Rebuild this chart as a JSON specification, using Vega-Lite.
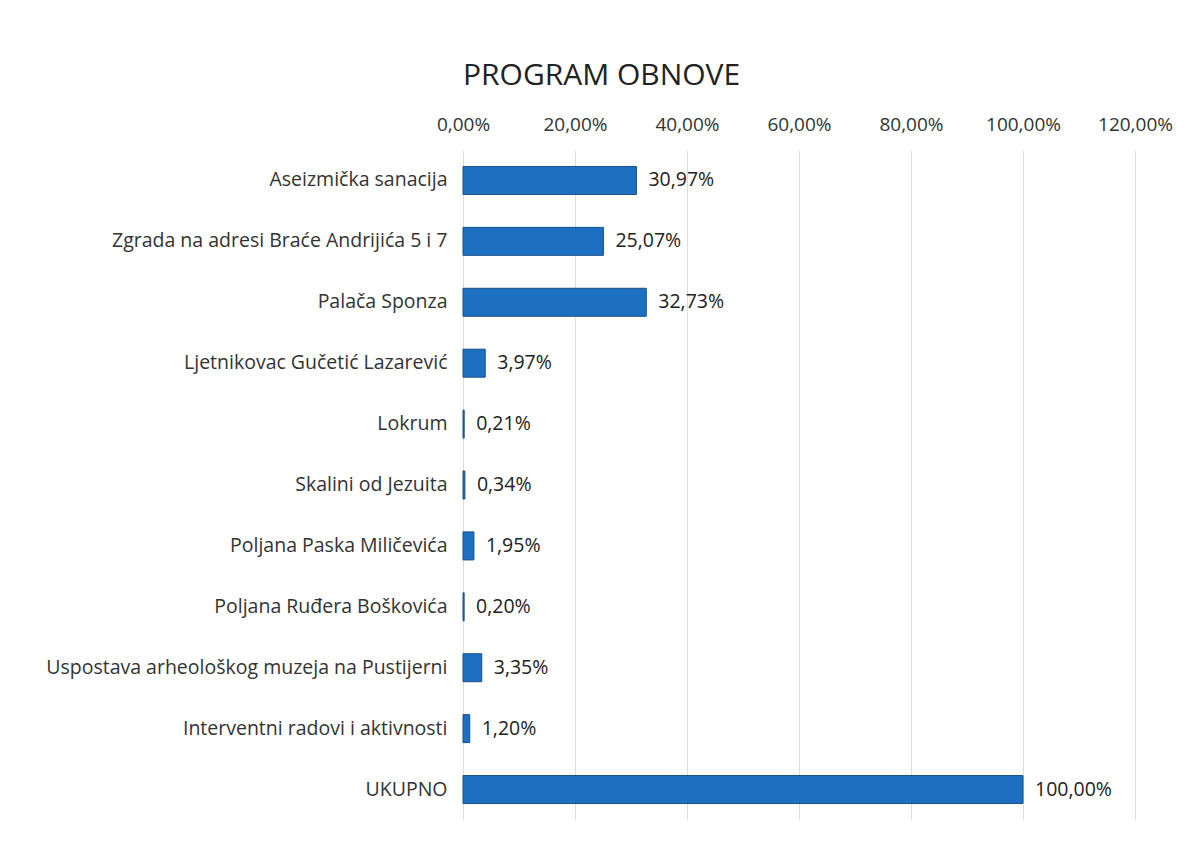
{
  "$schema": "https://vega.github.io/schema/vega-lite/v6.json",
  "autosize": {"type": "none"},
  "width": 672,
  "height": 670,
  "padding": {"left": 463, "top": 150, "right": 67, "bottom": 40},
  "background": "white",
  "title": {"text": "PROGRAM OBNOVE", "anchor": "start", "frame": "group", "fontSize": 30, "font": "Open Sans", "fontWeight": "normal", "color": "#222", "offset": 24},
  "data": {"values": [
    {"item": "Aseizmička sanacija", "share": 0.3097},
    {"item": "Zgrada na adresi Braće Andrijića 5 i 7", "share": 0.2507},
    {"item": "Palača Sponza", "share": 0.3273},
    {"item": "Ljetnikovac Gučetić Lazarević", "share": 0.0397},
    {"item": "Lokrum", "share": 0.0021},
    {"item": "Skalini od Jezuita", "share": 0.0034},
    {"item": "Poljana Paska Miličevića", "share": 0.0195},
    {"item": "Poljana Ruđera Boškovića", "share": 0.0020},
    {"item": "Uspostava arheološkog muzeja na Pustijerni", "share": 0.0335},
    {"item": "Interventni radovi i aktivnosti", "share": 0.0120},
    {"item": "UKUPNO", "share": 1.0}
  ]},
  "encoding": {
    "y": {"field": "item", "type": "nominal", "sort": null,
      "axis": {"title": null, "ticks": false, "domain": false, "labelFontSize": 19.5, "labelFont": "Open Sans", "labelColor": "#333", "labelPadding": 16, "labelLimit": 600}},
    "x": {"field": "share", "type": "quantitative", "scale": {"domain": [0, 1.2], "nice": false},
      "axis": {"orient": "top", "title": null, "ticks": false, "domain": false, "values": [0, 0.2, 0.4, 0.6, 0.8, 1.0, 1.2],
        "labelExpr": "replace(format(datum.value, '.2%'), '.', ',')", "labelFontSize": 19, "labelFont": "Open Sans", "labelColor": "#333", "labelPadding": 16, "labelFlush": false, "labelOverlap": false,
        "grid": true, "gridColor": "#dcdcdc", "gridWidth": 1}}
  },
  "layer": [
    {"mark": {"type": "bar", "size": 28, "color": "#1d6fc1", "stroke": "#1b4f86", "strokeWidth": 1}},
    {"mark": {"type": "text", "align": "left", "dx": 12, "fontSize": 19.5, "font": "Open Sans", "color": "#222"},
      "encoding": {"text": {"field": "share", "type": "quantitative", "format": ".2%"}}}
  ],
  "config": {
    "view": {"stroke": null},
    "locale": {"number": {"decimal": ",", "thousands": ".", "grouping": [3], "currency": ["", " €"]}}
  }
}
